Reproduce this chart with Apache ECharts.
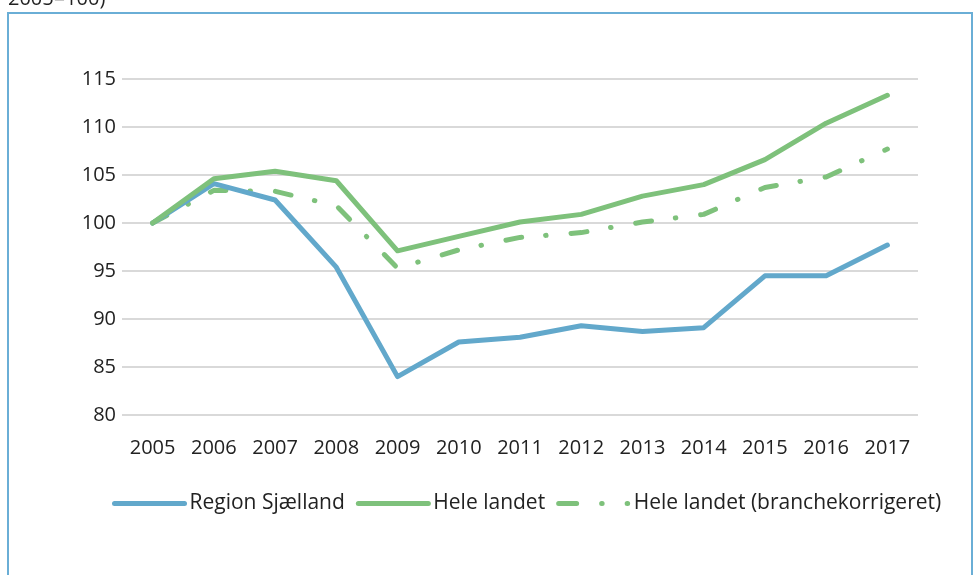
<!DOCTYPE html>
<html>
<head>
<meta charset="utf-8">
<title>Region Sjælland</title>
<script src="https://cdn.jsdelivr.net/npm/echarts@6/dist/echarts.min.js"></script>
<style>
  html, body { margin: 0; padding: 0; background: #fff; }
  #main { width: 974px; height: 575px; }
</style>
</head>
<body>
<div id="main"></div>
<script>
// årstal på x-aksen
var years = ['2005', '2006', '2007', '2008', '2009', '2010', '2011', '2012', '2013', '2014', '2015', '2016', '2017'];

// indeks, 2005 = 100
var regionSjaelland = [100, 104.1, 102.4, 95.4, 84.0, 87.6, 88.1, 89.3, 88.7, 89.1, 94.5, 94.5, 97.7];
var heleLandet = [100, 104.6, 105.4, 104.4, 97.1, 98.6, 100.1, 100.9, 102.8, 104.0, 106.6, 110.4, 113.3];
var heleLandetKorr = [100, 103.4, 103.3, 101.8, 95.3, 97.2, 98.5, 99.0, 100.1, 100.9, 103.7, 104.8, 107.7];

var seriesNames = ['Region Sjælland', 'Hele landet', 'Hele landet (branchekorrigeret)'];

var blue = '#62a8cb';
var green = '#7ec17b';
var font = 'Open Sans';

var myChart = echarts.init(document.getElementById('main'));

var option = {
    animation: false,
    textStyle: { fontFamily: font },
    graphic: [
        {
            type: 'text',
            left: 8,
            top: -11,
            style: { text: '2005=100)', fontSize: 20, fontFamily: font, fill: '#222' }
        },
        {
            type: 'rect',
            shape: { x: 8, y: 13, width: 964, height: 570 },
            style: { fill: 'none', stroke: '#6aaed6', lineWidth: 2 }
        }
    ],
    grid: {
        left: 122,
        right: 56,
        top: 79,
        bottom: 160,
        containLabel: false
    },
    legend: {
        left: 107,
        top: 488,
        itemWidth: 70,
        itemHeight: 14,
        itemGap: 11,
        itemStyle: { opacity: 0 },
        lineStyle: { width: 5, cap: 'round' },
        textStyle: { fontSize: 21, color: '#222', fontFamily: font },
        data: [
            { name: seriesNames[0] },
            { name: seriesNames[1] },
            { name: seriesNames[2], lineStyle: { width: 5, cap: 'round', type: [18, 25, 0.5, 25, 0.5, 30] } }
        ]
    },
    xAxis: {
        type: 'category',
        data: years,
        boundaryGap: true,
        axisLine: { show: false },
        axisTick: { show: false },
        axisLabel: { fontSize: 20, color: '#222', margin: 23 }
    },
    yAxis: {
        type: 'value',
        min: 80,
        max: 115,
        interval: 5,
        axisLine: { show: false },
        axisTick: { show: false },
        axisLabel: { fontSize: 20, color: '#222', margin: 6 },
        splitLine: { lineStyle: { color: '#d9d9d9', width: 2 } }
    },
    series: [
        {
            name: seriesNames[0],
            type: 'line',
            data: regionSjaelland,
            symbol: 'none',
            color: blue,
            lineStyle: { color: blue, width: 5, cap: 'round', join: 'round' },
            z: 3
        },
        {
            name: seriesNames[1],
            type: 'line',
            data: heleLandet,
            symbol: 'none',
            color: green,
            lineStyle: { color: green, width: 5, cap: 'round', join: 'round' },
            z: 4
        },
        {
            name: seriesNames[2],
            type: 'line',
            data: heleLandetKorr,
            symbol: 'none',
            color: green,
            lineStyle: { color: green, width: 5, type: [16, 24, 0.5, 25], cap: 'round', join: 'round' },
            z: 2
        }
    ]
};

myChart.setOption(option);
</script>
</body>
</html>
